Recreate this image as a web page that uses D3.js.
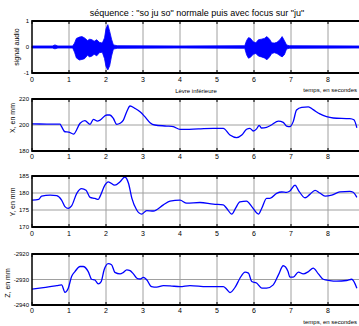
<!DOCTYPE html>
<html>
<head>
<meta charset="utf-8">
<script src="https://cdn.jsdelivr.net/npm/d3@7"></script>
<style>
  html, body { margin: 0; padding: 0; background: #fff; }
  svg { display: block; font-family: "Liberation Sans", Arial, sans-serif; }
</style>
</head>
<body>
<svg id="fig" width="359" height="326"></svg>
<script>
// ---- data ---------------------------------------------------------------
const timeTicks = [0, 1, 2, 3, 4, 5, 6, 7, 8];

// audio signal envelope (upper / lower amplitude over time, s)
const audioT  = [0, 0.55, 0.62, 0.7, 1.1, 1.15, 1.2, 1.28, 1.35, 1.42, 1.5, 1.56, 1.62, 1.68, 1.75, 1.82, 1.9, 1.96, 2.0, 2.05, 2.1, 2.15, 2.2, 2.3, 4.0, 5.75, 5.8, 5.85, 5.9, 5.98, 6.05, 6.12, 6.2, 6.28, 6.35, 6.42, 6.48, 6.55, 6.62, 6.7, 6.76, 6.82, 6.88, 6.95, 8.85];
const audioHi = [0.04, 0.04, 0.08, 0.04, 0.04, 0.15, 0.33, 0.38, 0.4, 0.35, 0.25, 0.3, 0.28, 0.22, 0.28, 0.18, 0.15, 0.35, 0.7, 0.86, 0.6, 0.3, 0.08, 0.05, 0.04, 0.05, 0.25, 0.36, 0.34, 0.2, 0.16, 0.28, 0.3, 0.33, 0.4, 0.3, 0.16, 0.15, 0.18, 0.28, 0.4, 0.25, 0.08, 0.05, 0.04];
const audioLo = [-0.04, -0.04, -0.07, -0.04, -0.04, -0.2, -0.42, -0.5, -0.48, -0.45, -0.32, -0.38, -0.35, -0.28, -0.34, -0.22, -0.2, -0.45, -0.75, -0.88, -0.72, -0.35, -0.08, -0.05, -0.04, -0.05, -0.3, -0.43, -0.4, -0.28, -0.25, -0.35, -0.38, -0.42, -0.49, -0.38, -0.25, -0.22, -0.25, -0.33, -0.38, -0.3, -0.08, -0.05, -0.04];

// lower lip X position (mm)
const xT   = [0, 0.4, 0.76, 0.8, 0.89, 0.99, 1.12, 1.3, 1.43, 1.57, 1.66, 1.77, 1.84, 2.02, 2.1, 2.2, 2.29, 2.38, 2.47, 2.56, 2.65, 2.78, 2.92, 3.05, 3.19, 3.32, 3.64, 3.82, 4.0, 4.5, 4.9, 5.17, 5.35, 5.53, 5.67, 5.8, 5.89, 5.98, 6.07, 6.14, 6.2, 6.34, 6.47, 6.66, 6.79, 6.88, 6.97, 7.06, 7.15, 7.29, 7.47, 7.6, 7.78, 7.96, 8.14, 8.59, 8.7, 8.78];
const xVal = [200.8, 200.7, 200.6, 198.7, 194.8, 194.6, 193, 201.3, 203.3, 200.5, 204.4, 203, 203.8, 207.7, 207.7, 205, 200.5, 201.3, 203.8, 210.2, 214.6, 212.8, 210.2, 206.4, 201.8, 200, 199.2, 198.7, 196.6, 197, 197.4, 197.4, 192.3, 190.3, 192.3, 196.7, 197.4, 195.4, 197, 199.7, 197.7, 198.2, 200, 203, 202, 199.2, 198.7, 202.6, 211.5, 213.6, 214, 211.8, 208.5, 206.4, 205.4, 204.9, 204, 197.9];

// lower lip Y position (mm)
const yT   = [0, 0.18, 0.26, 0.49, 0.67, 0.8, 0.89, 0.98, 1.07, 1.21, 1.34, 1.46, 1.57, 1.7, 1.79, 1.84, 1.97, 2.06, 2.24, 2.38, 2.51, 2.61, 2.7, 2.83, 2.96, 3.1, 3.28, 3.55, 3.73, 4.0, 4.18, 4.54, 4.9, 5.17, 5.26, 5.4, 5.5, 5.62, 5.8, 5.94, 6.12, 6.21, 6.34, 6.43, 6.61, 6.75, 6.88, 6.97, 7.11, 7.2, 7.38, 7.51, 7.65, 7.78, 7.92, 8.1, 8.32, 8.59, 8.68, 8.78];
const yVal = [177.9, 178.1, 179.1, 179.4, 179.2, 177.9, 176, 175.5, 176.2, 179.9, 181.3, 180.8, 178.7, 178.4, 178.1, 179, 182.3, 183.3, 182.3, 183.3, 184.7, 182.8, 178.4, 175, 173.8, 174.8, 174.7, 176.5, 177.6, 177.9, 177, 177.2, 176.7, 176.5, 175.5, 173.8, 175.5, 177.4, 177.6, 176, 173.8, 175.5, 178.4, 178.4, 179.9, 180.3, 180.2, 180.6, 182.3, 180.8, 178.6, 179.6, 180.8, 180, 179.1, 179.4, 180.3, 180.5, 180.2, 178.7];

// lower lip Z position (mm)
const zT   = [0, 0.31, 0.67, 0.8, 0.89, 0.98, 1.07, 1.16, 1.3, 1.38, 1.52, 1.61, 1.7, 1.79, 1.87, 1.95, 2.06, 2.15, 2.24, 2.38, 2.47, 2.56, 2.65, 2.74, 2.85, 2.92, 3.01, 3.1, 3.23, 3.37, 3.55, 3.73, 4.0, 4.27, 4.72, 5.17, 5.26, 5.35, 5.5, 5.62, 5.76, 5.85, 5.94, 6.07, 6.21, 6.34, 6.52, 6.66, 6.79, 6.92, 6.97, 7.06, 7.2, 7.33, 7.47, 7.6, 7.74, 7.87, 8.05, 8.23, 8.5, 8.64, 8.78];
const zVal = [-2933.8, -2933.2, -2932.4, -2932.1, -2935, -2933.4, -2928.8, -2926.9, -2924.9, -2924.9, -2926.9, -2929.9, -2930.2, -2931.7, -2930.8, -2926.2, -2923.8, -2924.2, -2927.2, -2927.8, -2927.2, -2926.2, -2926.5, -2927.8, -2929.7, -2929.8, -2929.2, -2930.1, -2932.8, -2933, -2932.4, -2932.5, -2932.8, -2932.4, -2932.8, -2932.8, -2933.8, -2935.1, -2932.8, -2929.5, -2927.1, -2927.5, -2930.8, -2931.4, -2933.4, -2933.4, -2932.1, -2928.2, -2924.6, -2926.9, -2929.1, -2929.1, -2927.1, -2927.8, -2926.9, -2925.5, -2927.8, -2929.9, -2930.4, -2930.6, -2930.4, -2929.9, -2933.4];

const audioTicks = [-1, 0, 1];
const xTicks = [180, 200, 220];
const yTicks = [170, 175, 180, 185];
const zTicks = [-2940, -2930, -2920];

// ---- layout -------------------------------------------------------------
const svg = d3.select("#fig");
// time axis runs 0..9 s; the right end of the frame lies past the figure edge
const x = d3.scaleLinear().domain([0, 9]).range([32, 365]);
const BLUE = "#0000ff";

const panels = [
  { top: 21, bottom: 73, domain: [-1, 1], ticks: audioTicks, grid: [0], label: "signal audio", labelX: 19, labelY: 47, tickY: 82 },
  { top: 99, bottom: 151, domain: [180, 220], ticks: xTicks, grid: [200], label: "X, en mm", labelX: 15, labelY: 118, tickY: 159 },
  { top: 176, bottom: 227, domain: [170, 185], ticks: yTicks, grid: [175, 180], label: "Y, en mm", labelX: 15, labelY: 202, tickY: 236 },
  { top: 254, bottom: 305, domain: [-2940, -2920], ticks: zTicks, grid: [-2930], label: "Z, en mm", labelX: 10, labelY: 283, tickY: 313 }
];

function drawFrame(p) {
  const y = d3.scaleLinear().domain(p.domain).range([p.bottom, p.top]);
  const g = svg.append("g");
  const x0 = x.range()[0], x1 = x.range()[1];

  // grid
  g.selectAll(".vg").data(timeTicks.slice(1)).join("line")
    .attr("x1", d => x(d)).attr("x2", d => x(d))
    .attr("y1", p.top).attr("y2", p.bottom)
    .attr("stroke", "#a0a0a0").attr("stroke-width", 1);
  g.selectAll(".hg").data(p.grid).join("line")
    .attr("x1", x0).attr("x2", x1)
    .attr("y1", d => y(d)).attr("y2", d => y(d))
    .attr("stroke", "#a0a0a0").attr("stroke-width", 1);

  // inward tick marks on top and bottom edges
  g.selectAll(".tt").data(timeTicks).join("line")
    .attr("x1", d => x(d)).attr("x2", d => x(d))
    .attr("y1", p.top).attr("y2", p.top + 3)
    .attr("stroke", "#000").attr("stroke-width", 1);
  g.selectAll(".tb").data(timeTicks).join("line")
    .attr("x1", d => x(d)).attr("x2", d => x(d))
    .attr("y1", p.bottom).attr("y2", p.bottom - 3)
    .attr("stroke", "#000").attr("stroke-width", 1);

  // time tick labels
  g.selectAll(".tl").data(timeTicks).join("text")
    .attr("x", d => x(d)).attr("y", p.tickY)
    .attr("text-anchor", "middle").attr("font-size", 7).attr("fill", "#000")
    .text(d => d);

  // value tick labels
  g.selectAll(".vl").data(p.ticks).join("text")
    .attr("x", 29).attr("y", d => y(d) + 2)
    .attr("text-anchor", "end").attr("font-size", 6).attr("fill", "#000")
    .text(d => d);

  // axis label
  g.append("text")
    .attr("transform", `translate(${p.labelX},${p.labelY}) rotate(-90)`)
    .attr("text-anchor", "middle").attr("font-size", 7).attr("fill", "#000")
    .text(p.label);

  return { g, y };
}

function drawBox(p) {
  const x0 = x.range()[0], x1 = x.range()[1];
  svg.append("line").attr("x1", x0).attr("x2", x1).attr("y1", p.top).attr("y2", p.top)
    .attr("stroke", "#000").attr("stroke-width", 2);
  svg.append("line").attr("x1", x0).attr("x2", x1).attr("y1", p.bottom).attr("y2", p.bottom)
    .attr("stroke", "#000").attr("stroke-width", 2);
  svg.append("line").attr("x1", x0).attr("x2", x0).attr("y1", p.top - 1).attr("y2", p.bottom + 1)
    .attr("stroke", "#000").attr("stroke-width", 1.5);
}

// audio panel
{
  const p = panels[0];
  const { g, y } = drawFrame(p);
  const pts = audioT.map((t, i) => ({ t, hi: audioHi[i], lo: audioLo[i] }));
  const area = d3.area().x(d => x(d.t)).y0(d => y(d.lo)).y1(d => y(d.hi)).curve(d3.curveLinear);
  g.append("path").datum(pts).attr("d", area)
    .attr("fill", BLUE).attr("stroke", BLUE).attr("stroke-width", 0.8);
  drawBox(p);
}

// articulatory panels
[[panels[1], xT, xVal], [panels[2], yT, yVal], [panels[3], zT, zVal]].forEach(([p, ts, vs]) => {
  const { g, y } = drawFrame(p);
  const line = d3.line().x(d => x(d[0])).y(d => y(d[1])).curve(d3.curveMonotoneX);
  g.append("path").datum(ts.map((t, i) => [t, vs[i]])).attr("d", line)
    .attr("fill", "none").attr("stroke", BLUE).attr("stroke-width", 1.3);
  drawBox(p);
});

// titles and captions
svg.append("text").attr("x", 197).attr("y", 16).attr("text-anchor", "middle")
  .attr("font-size", 9).attr("fill", "#000")
  .text("séquence : \"so ju so\" normale puis avec focus sur \"ju\"");
svg.append("text").attr("x", 196).attr("y", 92.5).attr("text-anchor", "middle")
  .attr("font-size", 6).attr("fill", "#000").text("Lèvre inférieure");
svg.append("text").attr("x", 357).attr("y", 91.5).attr("text-anchor", "end")
  .attr("font-size", 6).attr("fill", "#000").text("temps, en secondes");
svg.append("text").attr("x", 357).attr("y", 324).attr("text-anchor", "end")
  .attr("font-size", 6).attr("fill", "#000").text("temps, en secondes");
</script>
</body>
</html>
